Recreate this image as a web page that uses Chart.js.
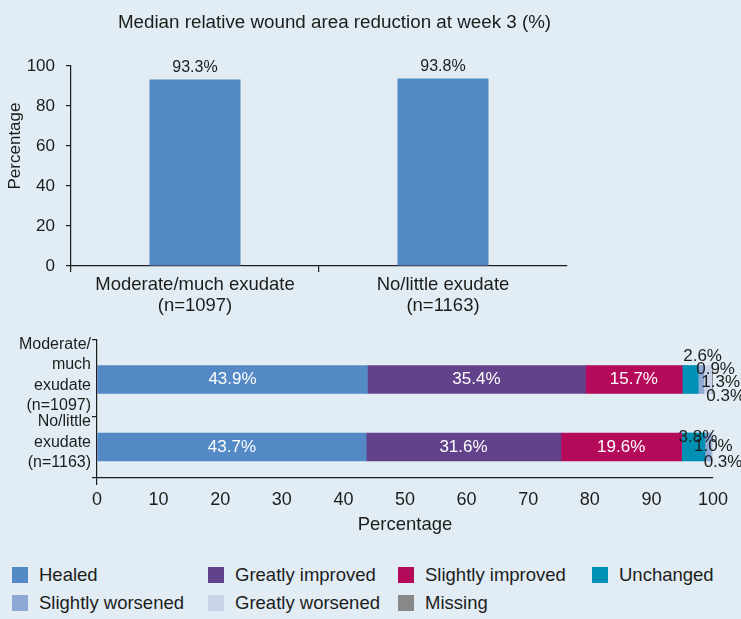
<!DOCTYPE html>
<html>
<head>
<meta charset="utf-8">
<script src="https://cdn.jsdelivr.net/npm/chart.js@4.4.1/dist/chart.umd.min.js"></script>
<style>
  html, body { margin: 0; padding: 0; background: #e1ecf4; }
  #wrap { position: relative; width: 741px; height: 619px; overflow: hidden;
          font-family: "Liberation Sans", Arial, Helvetica, sans-serif; color: #1d1d1b; }
  #topChart { position: absolute; left: 0; top: 0; }
  #bottomChart { position: absolute; left: 0; top: 320px; }
  .legend-item { position: absolute; display: flex; align-items: center; height: 16px;
                 font-size: 18.5px; white-space: nowrap; }
  .legend-item .swatch { width: 16px; height: 16px; margin-right: 11px; flex: none; }
</style>
</head>
<body>
<div id="wrap">
  <canvas id="topChart" width="741" height="320"></canvas>
  <canvas id="bottomChart" width="741" height="220"></canvas>
  <div id="legend"></div>
</div>
<script>
// ---- data ----
const summaryCategories = [['Moderate/much exudate', '(n=1097)'], ['No/little exudate', '(n=1163)']];
const medianReduction = [93.3, 93.8];
const summaryTicks = [0, 20, 40, 60, 80, 100];

const exudateGroups = [['Moderate/', 'much', 'exudate', '(n=1097)'], ['No/little', 'exudate', '(n=1163)']];
const outcomeNames = ['Healed', 'Greatly improved', 'Slightly improved', 'Unchanged',
                      'Slightly worsened', 'Greatly worsened', 'Missing'];
const healed           = [43.9, 43.7];
const greatlyImproved  = [35.4, 31.6];
const slightlyImproved = [15.7, 19.6];
const unchanged        = [2.6, 3.8];
const slightlyWorsened = [0.9, 1.0];
const greatlyWorsened  = [1.3, 0.3];
const missing          = [0.3, 0];
const percentTicks = [0, 10, 20, 30, 40, 50, 60, 70, 80, 90, 100];

// ---- styling ----
const FONT = '"Liberation Sans", Arial, Helvetica, sans-serif';
const INK = '#1d1d1b';
const NONE = 'rgba(0,0,0,0)';
const BAR_BLUE = '#5389c4';
const outcomeColors = ['#5389c4', '#62428a', '#b5095a', '#0090b3', '#8fa9d6', '#c8d3ea', '#888888'];
const outcomeSeries = [healed, greatlyImproved, slightlyImproved, unchanged,
                       slightlyWorsened, greatlyWorsened, missing];

Chart.defaults.font.family = FONT;
Chart.defaults.color = INK;

// free text placed on the canvas (headings that sit off-centre)
const canvasText = {
  id: 'canvasText',
  afterDraw(chart, args, opts) {
    const { ctx } = chart;
    (opts.items || []).forEach(t => {
      ctx.save();
      ctx.font = `${t.size}px ${FONT}`;
      ctx.fillStyle = INK;
      ctx.textAlign = 'center';
      ctx.textBaseline = 'middle';
      ctx.translate(t.x, t.y);
      if (t.rotate) ctx.rotate(t.rotate);
      ctx.fillText(t.text, 0, 0);
      ctx.restore();
    });
  }
};

// value labels above the summary bars
const barValueLabels = {
  id: 'barValueLabels',
  afterDatasetsDraw(chart, args, opts) {
    const { ctx } = chart;
    const ds = chart.data.datasets[0];
    ctx.save();
    ctx.font = `${opts.size}px ${FONT}`;
    ctx.fillStyle = INK;
    ctx.textAlign = 'center';
    ctx.textBaseline = 'alphabetic';
    chart.getDatasetMeta(0).data.forEach((bar, i) => {
      ctx.fillText(ds.data[i].toFixed(1) + '%', bar.x, bar.y - opts.gap);
    });
    ctx.restore();
  }
};

// labels on the stacked segments; thin segments get their label outside
const segmentLabels = {
  id: 'segmentLabels',
  afterDatasetsDraw(chart, args, opts) {
    const { ctx } = chart;
    const used = exudateGroups.map(() => 0);
    ctx.save();
    ctx.font = `${opts.size}px ${FONT}`;
    ctx.textBaseline = 'middle';
    chart.data.datasets.forEach((ds, d) => {
      chart.getDatasetMeta(d).data.forEach((bar, i) => {
        const v = ds.data[i].x;
        if (!v) return;
        const text = v.toFixed(1) + '%';
        if (v >= opts.insideMin) {
          ctx.fillStyle = '#ffffff';
          ctx.textAlign = 'center';
          ctx.fillText(text, (bar.x + bar.base) / 2, bar.y);
        } else {
          const [dx, dy] = opts.outsideNudge[i][used[i]++] || [0, 0];
          ctx.fillStyle = INK;
          ctx.textAlign = 'left';
          ctx.fillText(text, Math.min(bar.x, bar.base) + dx, bar.y + dy);
        }
      });
    });
    ctx.restore();
  }
};

// ---- top: median relative wound area reduction ----
new Chart(document.getElementById('topChart'), {
  type: 'bar',
  data: {
    labels: summaryCategories,
    datasets: [{
      data: medianReduction,
      backgroundColor: BAR_BLUE,
      categoryPercentage: 1,
      barPercentage: 0.367
    }]
  },
  plugins: [canvasText, barValueLabels],
  options: {
    responsive: false,
    animation: false,
    events: [],
    layout: { padding: { top: 66, right: 174, bottom: 0, left: 0 } },
    plugins: {
      legend: { display: false },
      tooltip: { enabled: false },
      barValueLabels: { size: 16, gap: 7 },
      canvasText: {
        items: [
          { text: 'Median relative wound area reduction at week 3 (%)', x: 334.5, y: 23, size: 18.8 },
          { text: 'Percentage', x: 15, y: 146, size: 17, rotate: -Math.PI / 2 }
        ]
      }
    },
    scales: {
      x: {
        grid: {
          offset: true,
          drawOnChartArea: false,
          tickLength: 6,
          lineWidth: 1.2,
          color: c => (c.type === 'tick' ? INK : NONE)
        },
        border: { display: true, color: INK, width: 1.2 },
        ticks: { font: { size: 18.5, lineHeight: 1.1 }, padding: 3, color: INK, maxRotation: 0 },
        afterFit: s => { s.height = 54; }
      },
      y: {
        min: 0,
        max: 100,
        afterBuildTicks: s => { s.ticks = summaryTicks.map(v => ({ value: v })); },
        grid: { drawOnChartArea: false, tickLength: 5, lineWidth: 1.2, color: INK },
        border: { display: true, color: INK, width: 1.2 },
        ticks: { font: { size: 17 }, padding: 11, color: INK },
        afterFit: s => { s.width = 71; }
      }
    }
  }
});

// ---- bottom: wound status distribution ----
// row band edges on the index axis (rows sit at 0 and 1)
const ROW_AXIS_TOP = -0.585;
const ROW_AXIS_SPLIT = 0.556;
const ROW_AXIS_BOTTOM = 1.46;

new Chart(document.getElementById('bottomChart'), {
  type: 'bar',
  data: {
    datasets: outcomeSeries.map((vals, k) => ({
      label: outcomeNames[k],
      data: vals.map((v, i) => ({ x: v, y: i })),
      backgroundColor: outcomeColors[k],
      barThickness: 28
    }))
  },
  plugins: [segmentLabels],
  options: {
    indexAxis: 'y',
    responsive: false,
    animation: false,
    events: [],
    layout: { padding: { top: 20, right: 28, bottom: 0, left: 0 } },
    plugins: {
      legend: { display: false },
      tooltip: { enabled: false },
      segmentLabels: {
        size: 17,
        insideMin: 5,
        outsideNudge: [
          [[1, -23.5], [-2, -10.5], [-2.5, 2.5], [-5.5, 16.5]],
          [[-3, -10], [-11, -1], [-7.5, 15]]
        ]
      }
    },
    scales: {
      x: {
        type: 'linear',
        stacked: true,
        min: 0,
        max: 100,
        afterBuildTicks: s => { s.ticks = percentTicks.map(v => ({ value: v })); },
        grid: {
          drawOnChartArea: false,
          tickLength: 7,
          lineWidth: 1.2,
          color: c => (c.type === 'tick' && c.tick.value === 0 ? INK : NONE)
        },
        border: { display: true, color: INK, width: 1.2 },
        ticks: { font: { size: 18 }, padding: 4, color: INK, autoSkip: false, maxRotation: 0 },
        title: { display: true, text: 'Percentage', font: { size: 18.5 }, color: INK, padding: { top: 0, bottom: 4 } },
        afterFit: s => { s.height = 62; }
      },
      y: {
        type: 'linear',
        stacked: true,
        reverse: true,
        offset: false,
        min: ROW_AXIS_TOP,
        max: ROW_AXIS_BOTTOM,
        afterBuildTicks: s => {
          s.ticks = [ROW_AXIS_TOP, 0, ROW_AXIS_SPLIT, 1, ROW_AXIS_BOTTOM].map(v => ({ value: v }));
        },
        grid: {
          offset: false,
          drawOnChartArea: false,
          tickLength: 5,
          lineWidth: 1.2,
          color: c => (c.type === 'tick' && !Number.isInteger(c.tick.value) ? INK : NONE)
        },
        border: { display: true, color: INK, width: 1.2 },
        ticks: {
          autoSkip: false,
          font: { size: 16, lineHeight: 1.28 },
          padding: 1,
          labelOffset: -4.5,
          color: INK,
          callback: v => (Number.isInteger(v) ? exudateGroups[v] : '')
        },
        afterFit: s => { s.width = 97; }
      }
    }
  }
});

// ---- legend ----
const legendColumns = [12, 208, 398, 592];
const legendRows = [567, 595];
const legendEl = document.getElementById('legend');
outcomeNames.forEach((name, k) => {
  const item = document.createElement('div');
  item.className = 'legend-item';
  item.style.left = legendColumns[k % 4] + 'px';
  item.style.top = legendRows[Math.floor(k / 4)] + 'px';
  const sw = document.createElement('span');
  sw.className = 'swatch';
  sw.style.background = outcomeColors[k];
  const label = document.createElement('span');
  label.textContent = name;
  item.appendChild(sw);
  item.appendChild(label);
  legendEl.appendChild(item);
});
</script>
</body>
</html>
